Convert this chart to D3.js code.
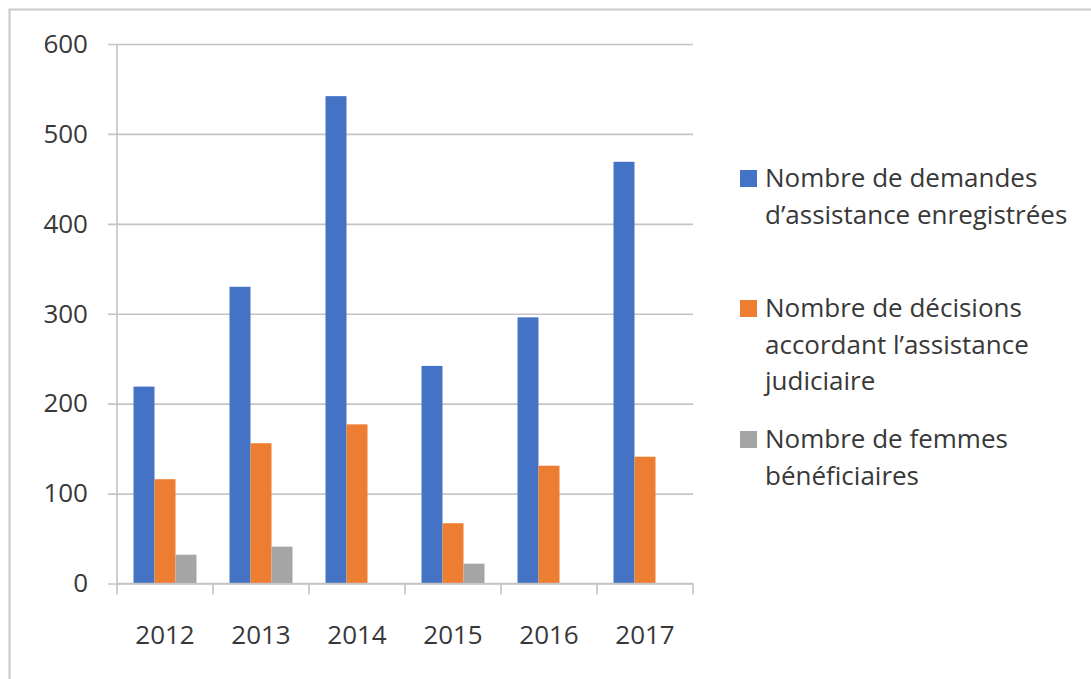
<!DOCTYPE html>
<html>
<head>
<meta charset="utf-8">
<script src="https://cdn.jsdelivr.net/npm/d3@7"></script>
<style>
    html, body { margin: 0; padding: 0; background: #fff; }
    svg { display: block; font-family: "Open Sans", sans-serif; }
</style>
</head>
<body>
<svg id="chart" width="1091" height="679"></svg>
<script>
'use strict';

var years = ["2012", "2013", "2014", "2015", "2016", "2017"];
var demandes = [219, 330, 542, 242, 296, 469];
var decisions = [116, 156, 177, 67, 131, 141];
var femmes = [32, 41, 0, 22, 0, 0];
var yTicks = [0, 100, 200, 300, 400, 500, 600];
var seriesLabels = [
    ["Nombre de demandes", "d\u2019assistance enregistrées"],
    ["Nombre de décisions", "accordant l\u2019assistance", "judiciaire"],
    ["Nombre de femmes", "bénéficiaires"]
];
var colors = ["#4472C4", "#ED7D31", "#A5A5A5"];

function drawChart() {
    var svg = d3.select("#chart"),
        textColor = "#383838",
        gridColor = "#c4c4c4",
        plotLeft = 117, plotRight = 693, plotTop = 44, plotBottom = 583.5;

    // outer frame (only the top and left edges are visible)
    svg.append("rect")
        .attr("x", 9.5).attr("y", 9.5)
        .attr("width", 1200).attr("height", 800)
        .style("fill", "none")
        .style("stroke", "#c8c8c8")
        .style("stroke-width", 2);

    var x = d3.scaleBand().domain(years).range([plotLeft, plotRight]);
    var y = d3.scaleLinear().domain([0, 600]).range([plotBottom, plotTop]);
    var series = [demandes, decisions, femmes];
    var xSub = d3.scaleBand().domain([0, 1, 2])
        .range([16.5, x.bandwidth() - 16.5]);

    // y axis + gridlines
    var yAxis = svg.append("g")
        .attr("transform", "translate(108,0)")
        .call(d3.axisLeft(y).tickValues(yTicks).tickSize(-(plotRight - 108)).tickPadding(20));
    yAxis.select(".domain").remove();
    yAxis.selectAll(".tick line")
        .style("stroke", gridColor)
        .style("stroke-width", 1.6);
    yAxis.selectAll(".tick text")
        .style("font-size", "26px")
        .style("font-family", "Open Sans, sans-serif")
        .style("fill", textColor);

    // vertical axis line
    svg.append("line")
        .attr("x1", plotLeft).attr("x2", plotLeft)
        .attr("y1", y(600)).attr("y2", plotBottom)
        .style("stroke", gridColor)
        .style("stroke-width", 1.6);

    // bars
    series.forEach(function(vals, i) {
        svg.append("g").selectAll("rect")
            .data(years)
            .enter().append("rect")
            .attr("x", function(d) { return x(d) + xSub(i); })
            .attr("width", xSub.bandwidth())
            .attr("y", function(d, j) { return y(vals[j]); })
            .attr("height", function(d, j) { return plotBottom - y(vals[j]); })
            .style("fill", colors[i]);
    });

    // x axis: baseline, boundary ticks, labels
    svg.append("line")
        .attr("x1", plotLeft).attr("x2", plotRight)
        .attr("y1", plotBottom).attr("y2", plotBottom)
        .style("stroke", gridColor)
        .style("stroke-width", 1.6);

    var bounds = years.map(function(d) { return x(d); }).concat([plotRight]);
    svg.append("g").selectAll("line")
        .data(bounds)
        .enter().append("line")
        .attr("x1", function(d) { return d; })
        .attr("x2", function(d) { return d; })
        .attr("y1", plotBottom)
        .attr("y2", plotBottom + 11)
        .style("stroke", gridColor)
        .style("stroke-width", 1.6);

    var xAxis = svg.append("g")
        .attr("transform", "translate(0," + plotBottom + ")")
        .call(d3.axisBottom(x).tickSize(0).tickPadding(42));
    xAxis.select(".domain").remove();
    xAxis.selectAll(".tick text")
        .style("font-size", "26px")
        .style("font-family", "Open Sans, sans-serif")
        .style("fill", textColor);

    // legend
    var legendBase = [187, 317, 448],
        lineH = 36.5;

    seriesLabels.forEach(function(lines, i) {
        var g = svg.append("g").attr("class", "legendItem");
        g.append("rect")
            .attr("x", 740)
            .attr("y", legendBase[i] - 17)
            .attr("width", 17)
            .attr("height", 17)
            .style("fill", colors[i]);
        var t = g.append("text")
            .attr("x", 765)
            .attr("y", legendBase[i])
            .style("font-size", "26px")
            .style("fill", textColor);
        lines.forEach(function(l, k) {
            t.append("tspan")
                .attr("x", 765)
                .attr("y", legendBase[i] + k * lineH)
                .text(l);
        });
    });
}

drawChart();
</script>
</body>
</html>
